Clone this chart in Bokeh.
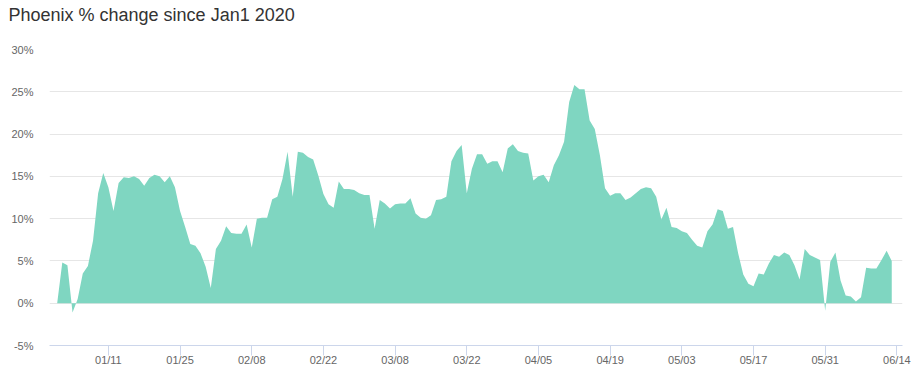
from bokeh.plotting import figure
from bokeh.models import Range1d, FixedTicker, PrintfTickFormatter, ColumnDataSource, Title
from bokeh.embed import file_html
from bokeh.resources import INLINE

# Day offset since Jan 1 (day 0) and % change values
days = list(range(164))
pct_change = [
    0.0, 4.8, 4.5, -1.1, 0.5, 3.5, 4.4, 7.4, 13.0, 15.4,
    13.7, 10.9, 14.2, 14.9, 14.8, 15.0, 14.7, 13.9, 14.8, 15.2,
    15.0, 14.3, 15.0, 13.7, 10.9, 9.0, 7.0, 6.8, 5.9, 4.3,
    1.8, 6.4, 7.4, 9.1, 8.3, 8.2, 8.2, 9.3, 6.6, 10.0,
    10.1, 10.1, 12.3, 12.6, 14.7, 17.9, 12.6, 17.9, 17.8, 17.3,
    17.0, 15.1, 12.9, 11.7, 11.3, 14.4, 13.5, 13.5, 13.4, 13.0,
    12.8, 12.8, 8.8, 12.2, 11.8, 11.2, 11.7, 11.8, 11.8, 12.4,
    10.6, 10.1, 10.0, 10.4, 12.2, 12.3, 12.6, 16.8, 18.0, 18.7,
    13.0, 15.9, 17.6, 17.6, 16.5, 16.8, 16.8, 15.5, 18.3, 18.8,
    18.0, 17.8, 17.7, 14.5, 15.0, 15.2, 14.3, 16.3, 17.5, 19.1,
    23.8, 25.8, 25.3, 25.3, 21.6, 20.6, 17.5, 13.6, 12.7, 13.0,
    13.0, 12.2, 12.5, 13.0, 13.5, 13.7, 13.6, 12.6, 9.9, 11.3,
    9.0, 8.9, 8.5, 8.3, 7.5, 6.8, 6.6, 8.5, 9.3, 11.1,
    10.9, 8.8, 9.0, 5.9, 3.4, 2.3, 2.0, 3.5, 3.4, 4.7,
    5.7, 5.5, 6.0, 5.7, 4.5, 2.8, 6.4, 5.7, 5.4, 5.1,
    -0.9, 4.9, 6.0, 2.7, 0.9, 0.8, 0.2, 0.7, 4.2, 4.1,
    4.1, 5.1, 6.2, 5.0,
]
baseline = [0.0] * len(days)

x_tick_days = [10, 24, 38, 52, 66, 80, 94, 108, 122, 136, 150, 164]
x_tick_labels = ["01/11", "01/25", "02/08", "02/22", "03/08", "03/22",
                 "04/05", "04/19", "05/03", "05/17", "05/31", "06/14"]
y_ticks = [-5, 0, 5, 10, 15, 20, 25, 30]

FONT = "Liberation Sans"

p = figure(width=915, height=382, output_backend="svg", toolbar_location=None,
           x_range=Range1d(-1.5, 165.1), y_range=Range1d(-5, 30),
           min_border_left=49, min_border_right=13, min_border_top=49,
           min_border_bottom=37, title=None)
p.outline_line_color = None
p.background_fill_color = "white"
p.border_fill_color = "white"

# spacer panel between the frame and the title (nearest to the frame)
p.add_layout(Title(text=" ", text_font=FONT, text_font_size="1px",
                   standoff=22), "above")
p.add_layout(Title(text="Phoenix % change since Jan1 2020", text_font=FONT,
                   text_font_size="18px", text_font_style="normal",
                   text_color="#333333", align="left", offset=-41,
                   standoff=0), "above")

src = ColumnDataSource(dict(x=days, y1=baseline, y2=pct_change))
p.varea(x="x", y1="y1", y2="y2", source=src, fill_color="#7fd6c1", fill_alpha=1.0)

# X axis
xa = p.xaxis[0]
xa.ticker = FixedTicker(ticks=x_tick_days)
xa.major_label_overrides = {d: l for d, l in zip(x_tick_days, x_tick_labels)}
xa.axis_line_color = "#ccd6eb"
xa.major_tick_line_color = "#ccd6eb"
xa.major_tick_out = 10
xa.major_tick_in = 0
xa.minor_tick_line_color = None
xa.major_label_standoff = -2
xa.major_label_text_font = FONT
xa.major_label_text_font_size = "11px"
xa.major_label_text_color = "#666666"

# Y axis
ya = p.yaxis[0]
ya.ticker = FixedTicker(ticks=y_ticks)
ya.formatter = PrintfTickFormatter(format="%d%%")
ya.axis_line_color = None
ya.major_tick_line_color = None
ya.minor_tick_line_color = None
ya.major_label_standoff = 10
ya.major_label_text_font = FONT
ya.major_label_text_font_size = "11px"
ya.major_label_text_color = "#666666"

p.xgrid.grid_line_color = None
p.ygrid.ticker = FixedTicker(ticks=y_ticks)
p.ygrid.grid_line_color = "#e6e6e6"
p.ygrid.grid_line_width = 1

open("out.html", "w").write(file_html(p, INLINE))
